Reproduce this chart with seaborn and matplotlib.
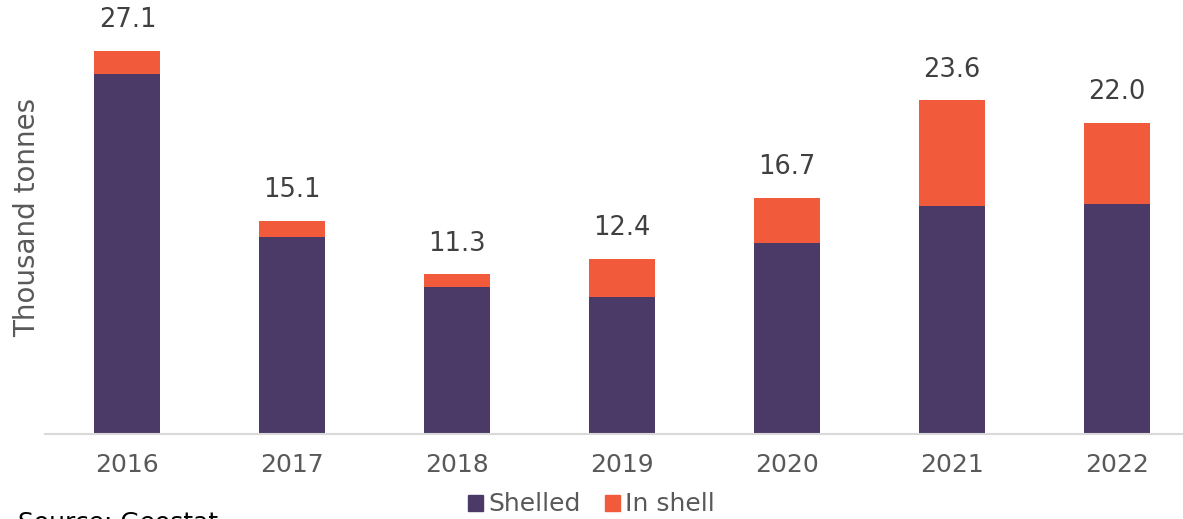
import matplotlib
matplotlib.use("Agg")
import matplotlib.pyplot as plt
import seaborn as sns
import pandas as pd
import numpy as np
from matplotlib.patches import Patch

years = ["2016", "2017", "2018", "2019", "2020", "2021", "2022"]
shelled = [25.5, 13.9, 10.4, 9.7, 13.5, 16.1, 16.3]
in_shell = [1.6, 1.2, 0.9, 2.7, 3.2, 7.5, 5.7]
totals = [27.1, 15.1, 11.3, 12.4, 16.7, 23.6, 22.0]

purple = "#4B3A67"
orange = "#F15A3A"

sns.set_theme(style="white")
plt.rcParams['font.family'] = ['DejaVu Sans']

fig = plt.figure(figsize=(11.83, 5.19), dpi=100)
ax = fig.add_axes([0.038, 0.1638, 0.962, 0.8362])

df = pd.DataFrame({"year": years, "Shelled": shelled, "In shell": in_shell, "total": totals})

sns.barplot(data=df, x="year", y="total", color=orange, width=0.4, ax=ax,
            saturation=1, linewidth=0)
sns.barplot(data=df, x="year", y="Shelled", color=purple, width=0.4, ax=ax,
            saturation=1, linewidth=0)
if ax.legend_ is not None:
    ax.legend_.remove()

for i, t in enumerate(totals):
    ax.text(i, t + 1.25, f"{t:.1f}", ha="center", va="bottom", fontsize=18.5, color="#404040")

ax.set_xlim(-0.5, 6.4)
ax.set_ylim(0, 30.7)
ax.set_yticks([])
ax.set_xlabel("")
ax.set_ylabel("Thousand tonnes", fontsize=20, color="#595959", labelpad=3)
ax.tick_params(axis="x", labelsize=18, labelcolor="#595959", length=0, pad=14)
for s in ["top", "right", "left"]:
    ax.spines[s].set_visible(False)
ax.spines["bottom"].set_color("#D9D9D9")
ax.spines["bottom"].set_linewidth(1.5)

handles = [Patch(color=purple, label="Shelled"), Patch(color=orange, label="In shell")]
fig.legend(handles=handles, loc="center", bbox_to_anchor=(0.5, 0.028), ncol=2,
           frameon=False, fontsize=18, handlelength=0.6, handleheight=0.6,
           handletextpad=0.2, columnspacing=1.0, labelcolor="#595959")

fig.text(0.015, -0.03, "Source: Geostat", fontsize=18, color="#000000", ha="left", va="bottom")

fig.savefig("out.png", dpi=100)
